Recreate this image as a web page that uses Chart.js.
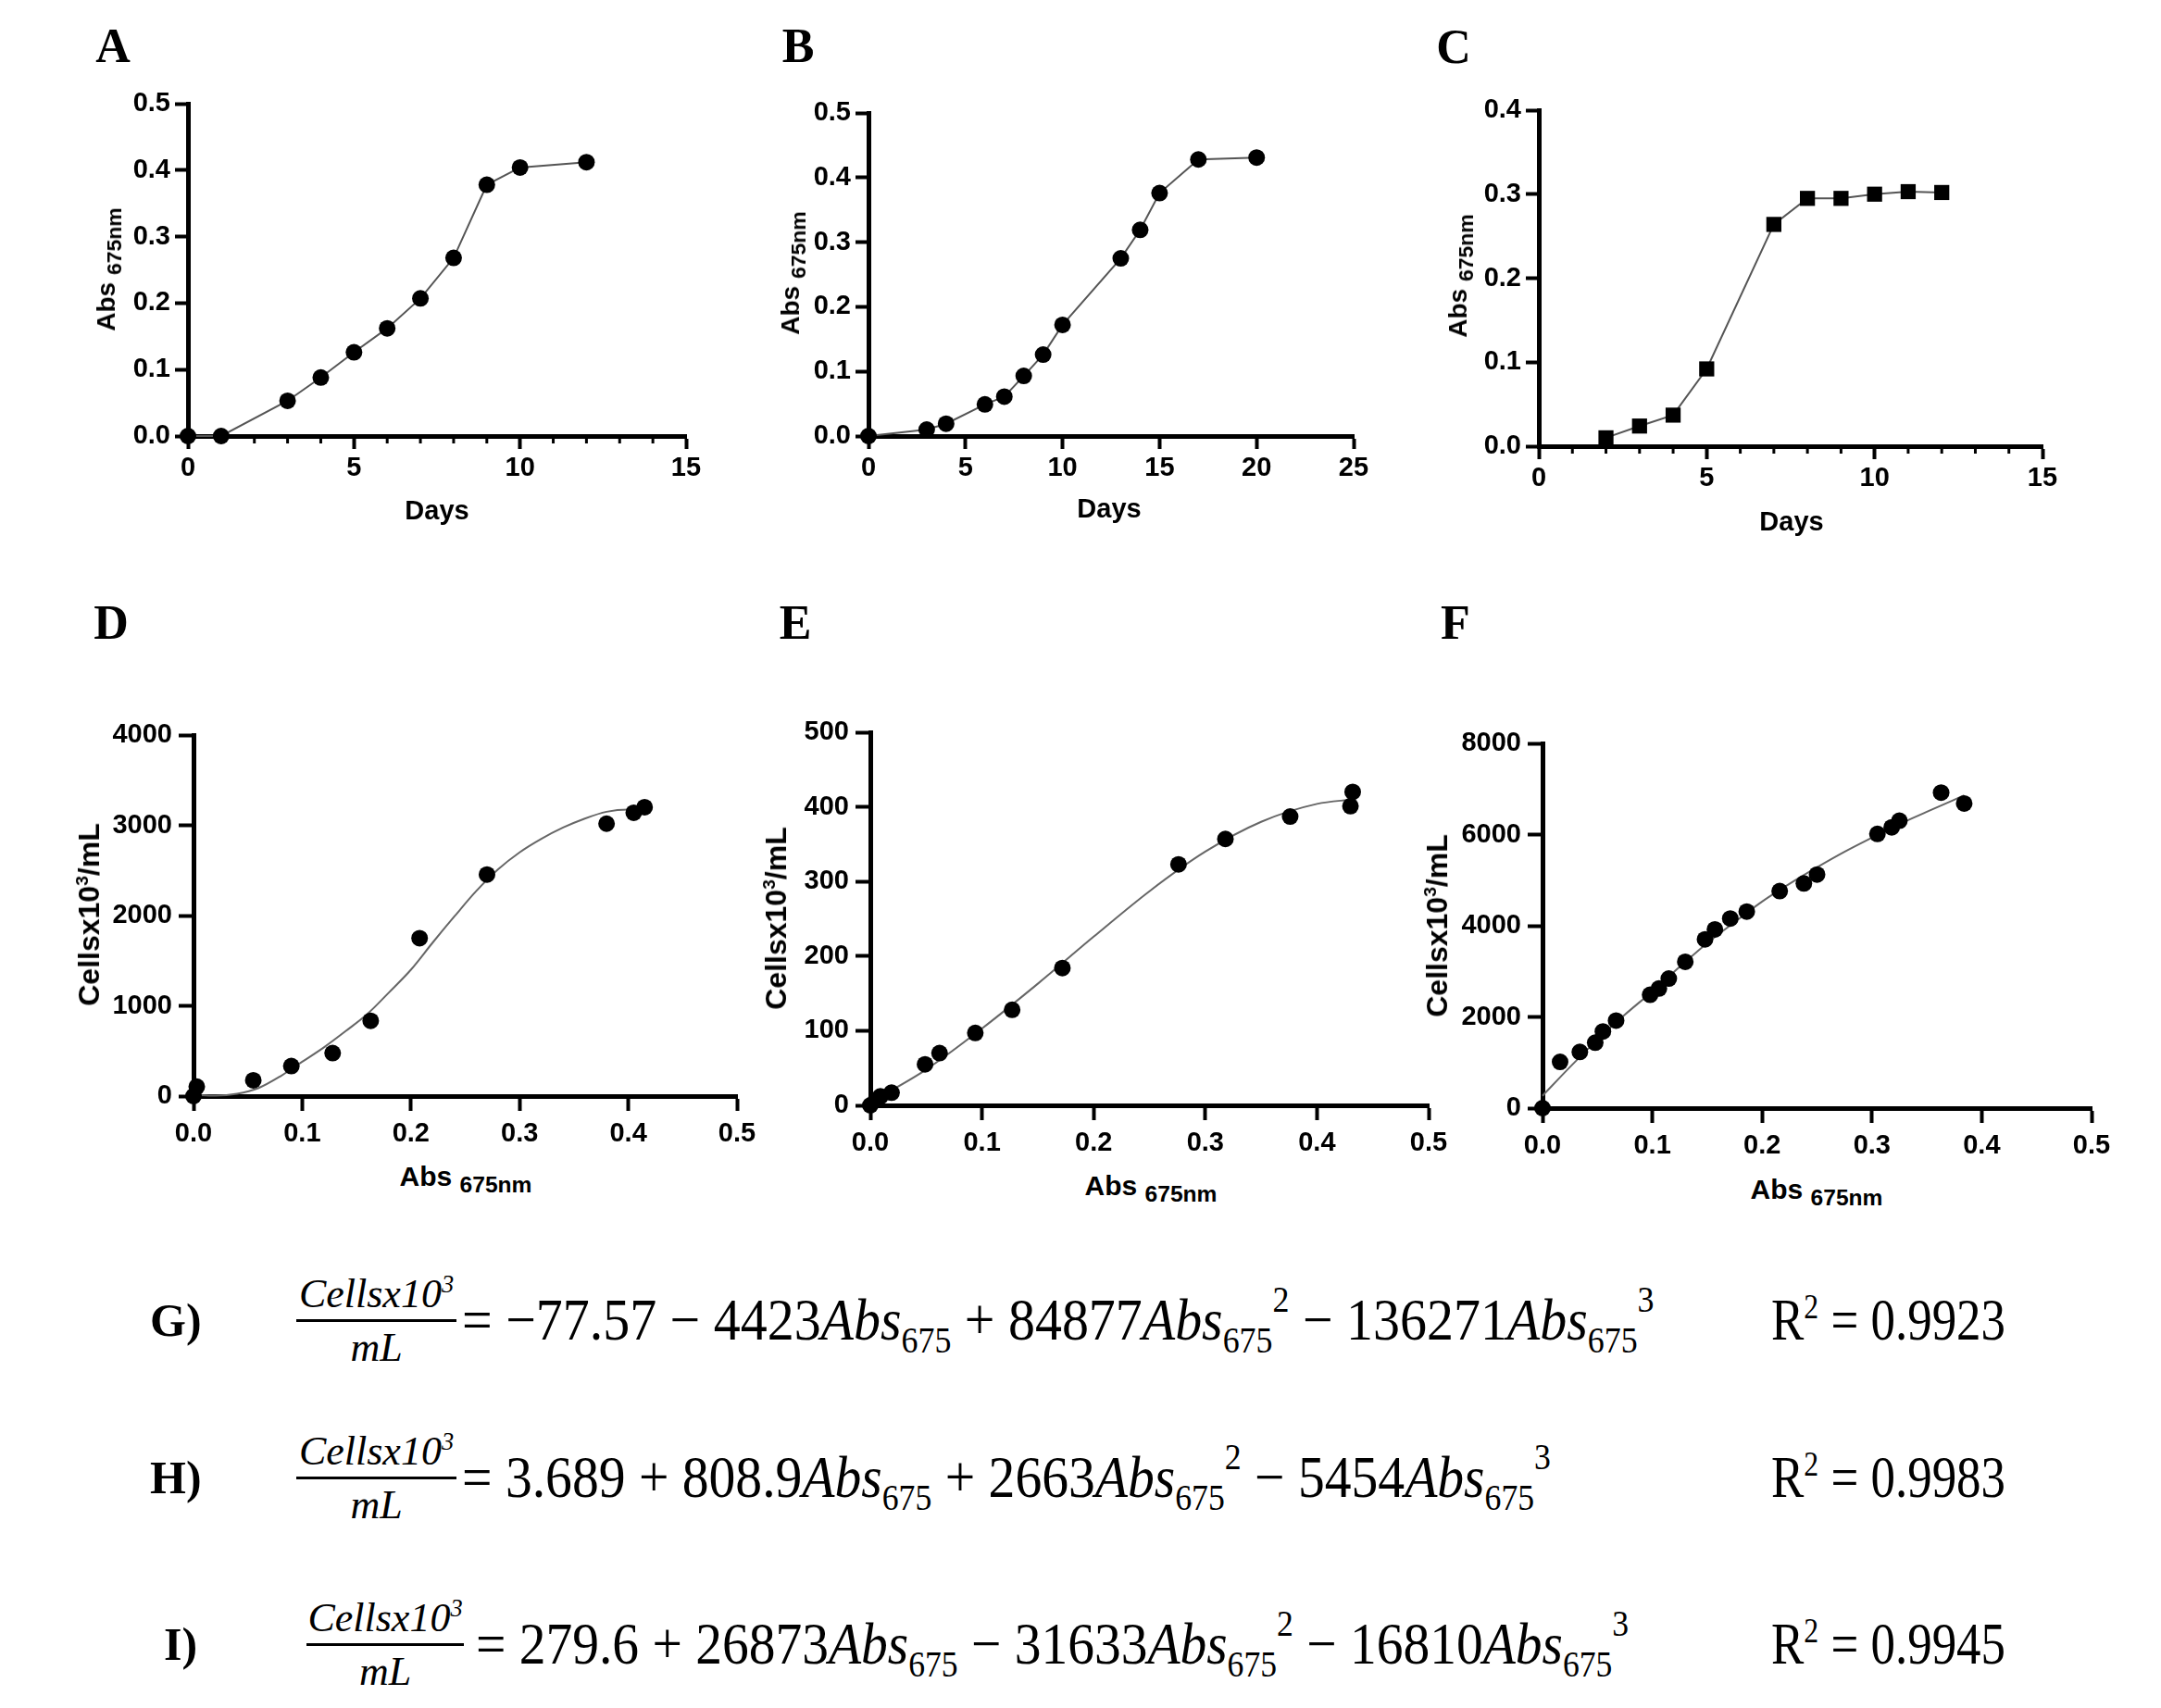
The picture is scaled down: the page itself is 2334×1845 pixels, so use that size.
<!DOCTYPE html>
<html>
<head>
<meta charset="utf-8">
<script src="https://cdn.jsdelivr.net/npm/chart.js@4.4.1/dist/chart.umd.min.js"></script>
<style>
body { margin: 0; background: #fff; width: 2334px; height: 1845px; position: relative; overflow: hidden; font-family: "Liberation Sans", Arial, sans-serif; color: #000; }
.panel { position: absolute; }
.letter { position: absolute; font-family: "Liberation Serif", "Times New Roman", serif; font-weight: bold; font-size: 52px; line-height: 1; transform: translate(-50%, -50%); }
.xt { position: absolute; font-weight: bold; white-space: nowrap; line-height: 1; transform: translate(-50%, -50%); }
.yt { position: absolute; font-weight: bold; white-space: nowrap; line-height: 1; transform: translate(-50%, -50%) rotate(-90deg); }
.sub { font-size: 0.82em; position: relative; top: 0.3em; }
.sup { font-size: 0.6em; position: relative; top: -0.6em; }
.eqlabel { position: absolute; font-family: "Liberation Serif", "Times New Roman", serif; font-weight: bold; font-size: 50px; line-height: 1; transform: translateY(-50%); }
.frac { position: absolute; font-family: "Liberation Serif", serif; font-style: italic; font-size: 44px; text-align: center; }
.frac .num { position: absolute; left: 0; right: 0; bottom: 6px; line-height: 1; white-space: nowrap; }
.frac .den { position: absolute; left: 0; right: 0; top: 8px; line-height: 1; }
.frac .bar { position: absolute; left: 0; right: 0; top: -1px; height: 3px; background: #000; }
.eq, .r2 { position: absolute; font-family: "Liberation Serif", serif; font-size: 64px; line-height: 1; white-space: nowrap; transform-origin: left center; }
.eq i { font-style: italic; }
.eq .s { font-size: 0.62em; position: relative; top: 0.35em; }
.eq .p { font-size: 0.62em; position: relative; top: -0.75em; }
.r2 .p { font-size: 0.6em; position: relative; top: -0.6em; }
</style>
</head>
<body>
<script>
// growth curves (A-C)
const daysA = [0, 1, 3, 4, 5, 6, 7, 8, 9, 10, 12];
const absA = [0, 0, 0.053, 0.088, 0.126, 0.162, 0.207, 0.268, 0.378, 0.404, 0.412];
const daysB = [0, 3, 4, 6, 7, 8, 9, 10, 13, 14, 15, 17, 20];
const absB = [0, 0.010, 0.019, 0.049, 0.061, 0.093, 0.126, 0.172, 0.275, 0.319, 0.376, 0.428, 0.431];
const daysC = [2, 3, 4, 5, 7, 8, 9, 10, 11, 12];
const absC = [0.010, 0.024, 0.037, 0.092, 0.264, 0.295, 0.295, 0.300, 0.303, 0.302];

// calibration points (D-F)
const absD = [0, 0.003, 0.055, 0.090, 0.128, 0.163, 0.208, 0.270, 0.380, 0.405, 0.415];
const cellsD = [0, 105, 175, 333, 476, 834, 1749, 2455, 3018, 3139, 3201];
const absE = [0, 0.005, 0.009, 0.019, 0.049, 0.062, 0.094, 0.127, 0.172, 0.276, 0.318, 0.376, 0.430, 0.432];
const cellsE = [0, 7, 12, 17, 55, 70, 97, 128, 184, 323, 357, 387, 401, 420];
const absF = [0, 0.016, 0.034, 0.048, 0.055, 0.067, 0.098, 0.106, 0.115, 0.130, 0.148, 0.157, 0.171, 0.186, 0.216, 0.238, 0.250, 0.305, 0.318, 0.325, 0.363, 0.384];
const cellsF = [0, 1015, 1232, 1435, 1681, 1920, 2486, 2623, 2841, 3210, 3703, 3920, 4159, 4312, 4761, 4928, 5123, 6014, 6159, 6304, 6920, 6681];

// fitted curves
const fitXD = [0, 0.02, 0.04, 0.06, 0.08, 0.10, 0.12, 0.14, 0.16, 0.18, 0.20, 0.22, 0.24, 0.26, 0.28, 0.30, 0.32, 0.34, 0.36, 0.38, 0.40, 0.415];
const fitYD = [15, 5, 25, 90, 220, 380, 540, 720, 910, 1150, 1400, 1700, 1990, 2270, 2510, 2700, 2850, 2975, 3075, 3150, 3175, 3170];
const fitXE = [0, 0.05, 0.10, 0.15, 0.20, 0.25, 0.30, 0.35, 0.40, 0.432];
const fitYE = [4, 48, 103, 163, 226, 287, 340, 380, 404, 410];
const fitXF = [0, 0.025, 0.05, 0.075, 0.10, 0.125, 0.15, 0.175, 0.20, 0.225, 0.25, 0.275, 0.30, 0.325, 0.35, 0.384];
const fitYF = [270, 900, 1500, 2050, 2560, 3100, 3620, 4080, 4530, 4920, 5280, 5620, 5930, 6230, 6500, 6860];

// ticks
const dayTicks15 = [0, 5, 10, 15];
const dayTicks25 = [0, 5, 10, 15, 20, 25];
const absTicks5 = [0, 0.1, 0.2, 0.3, 0.4, 0.5];
const absTicks4 = [0, 0.1, 0.2, 0.3, 0.4];
const absLabels5 = ['0.0', '0.1', '0.2', '0.3', '0.4', '0.5'];
const absLabels4 = ['0.0', '0.1', '0.2', '0.3', '0.4'];
const cellTicksD = [0, 1000, 2000, 3000, 4000];
const cellTicksE = [0, 100, 200, 300, 400, 500];
const cellTicksF = [0, 2000, 4000, 6000, 8000];

const FONT = '"Liberation Sans", Arial, sans-serif';

const pts = (xs, ys) => xs.map((x, i) => ({ x: x, y: ys[i] }));

const minorTicks = {
    id: 'minorTicks',
    afterDraw(chart, args, opts) {
        if (!opts.step) return;
        const sx = chart.scales.x, ctx = chart.ctx, y0 = chart.chartArea.bottom;
        ctx.save();
        ctx.strokeStyle = '#000';
        ctx.lineWidth = 3;
        for (let v = sx.min; v <= sx.max; v += opts.step) {
            if (v % opts.major === 0) continue;
            const px = sx.getPixelForValue(v);
            ctx.beginPath(); ctx.moveTo(px, y0); ctx.lineTo(px, y0 + 8); ctx.stroke();
        }
        ctx.restore();
    }
};

function axis(vals, labels, p, pad, fit, isX) {
    return {
        type: 'linear',
        min: vals[0], max: vals[vals.length - 1],
        afterBuildTicks: s => { s.ticks = vals.map(v => ({ value: v })); },
        afterFit: s => { if (isX) s.height = fit; else s.width = fit; },
        ticks: { callback: (v, i) => labels[i], color: '#000', font: { family: FONT, size: p.font, weight: 'bold' }, padding: pad, maxRotation: 0, autoSkip: false },
        grid: { drawOnChartArea: false, drawTicks: true, tickLength: p.tick, tickWidth: 4, tickColor: '#000' },
        border: { display: true, color: '#000', width: 5 }
    };
}

function panel(p) {
    const padL = 130, padT = 30, padR = 50, padB = 70;
    const w = p.right - p.left + padL + padR, h = p.bottom - p.top + padT + padB;
    const div = document.createElement('div');
    div.className = 'panel';
    div.style.left = (p.left - padL) + 'px';
    div.style.top = (p.top - padT) + 'px';
    div.style.width = w + 'px';
    div.style.height = h + 'px';
    const cv = document.createElement('canvas');
    div.appendChild(cv);
    document.body.appendChild(div);
    new Chart(cv, {
        type: 'scatter',
        data: { datasets: p.datasets },
        options: {
            responsive: true, maintainAspectRatio: false, animation: false,
            layout: { padding: { left: 0, top: padT, right: padR, bottom: 0 } },
            plugins: { legend: { display: false }, tooltip: { enabled: false }, minorTicks: { step: p.minor || 0, major: 5 } },
            scales: {
                x: axis(p.xVals, p.xLabels, p, p.xPad, padB, true),
                y: axis(p.yVals, p.yLabels, p, p.yPad, padL, false)
            }
        },
        plugins: [minorTicks]
    });
}

function growth(xs, ys, style, r) {
    return [{ data: pts(xs, ys), showLine: true, borderColor: '#555', borderWidth: 2, pointStyle: style, pointRadius: r,
        pointBackgroundColor: '#000', pointBorderColor: '#000', pointBorderWidth: 0, clip: false }];
}

function calib(xs, ys, fx, fy) {
    return [
        { data: pts(xs, ys), showLine: false, pointRadius: 9, pointBackgroundColor: '#000', pointBorderColor: '#000', pointBorderWidth: 0, clip: false },
        { data: pts(fx, fy), showLine: true, borderColor: '#666', borderWidth: 2, pointRadius: 0, cubicInterpolationMode: 'monotone', clip: false }
    ];
}

const dayLabels15 = dayTicks15.map(String);
const dayLabels25 = dayTicks25.map(String);

panel({ left: 203, right: 741, top: 112, bottom: 471, font: 29, tick: 14, xPad: 4, yPad: 5, minor: 1,
    xVals: dayTicks15, xLabels: dayLabels15, yVals: absTicks5, yLabels: absLabels5, datasets: growth(daysA, absA, 'circle', 9) });
panel({ left: 938, right: 1462, top: 122, bottom: 471, font: 29, tick: 14, xPad: 4, yPad: 5,
    xVals: dayTicks25, xLabels: dayLabels25, yVals: absTicks5, yLabels: absLabels5, datasets: growth(daysB, absB, 'circle', 9) });
panel({ left: 1662, right: 2206, top: 119, bottom: 482, font: 29, tick: 14, xPad: 4, yPad: 5, minor: 1,
    xVals: dayTicks15, xLabels: dayLabels15, yVals: absTicks4, yLabels: absLabels4, datasets: growth(daysC, absC, 'rect', 11.5) });
panel({ left: 209, right: 796, top: 794, bottom: 1184, font: 29, tick: 16, xPad: 8, yPad: 7,
    xVals: absTicks5, xLabels: absLabels5, yVals: cellTicksD, yLabels: cellTicksD.map(String), datasets: calib(absD, cellsD, fitXD, fitYD) });
panel({ left: 940, right: 1543, top: 791, bottom: 1194, font: 29, tick: 16, xPad: 8, yPad: 7,
    xVals: absTicks5, xLabels: absLabels5, yVals: cellTicksE, yLabels: cellTicksE.map(String), datasets: calib(absE, cellsE, fitXE, fitYE) });
panel({ left: 1666, right: 2259, top: 803, bottom: 1197, font: 29, tick: 16, xPad: 8, yPad: 7,
    xVals: absTicks5, xLabels: absLabels5, yVals: cellTicksF, yLabels: cellTicksF.map(String), datasets: calib(absF, cellsF, fitXF, fitYF) });

function put(cls, x, y, html, size) {
    const d = document.createElement('div');
    d.className = cls;
    d.style.left = x + 'px';
    d.style.top = y + 'px';
    if (size) d.style.fontSize = size + 'px';
    d.innerHTML = html;
    document.body.appendChild(d);
    return d;
}

// panel letters
[['A', 122, 50], ['B', 862, 50], ['C', 1570, 51], ['D', 120, 673], ['E', 859, 673], ['F', 1572, 673]]
    .forEach(l => put('letter', l[1], l[2], l[0]));

// axis titles
const absTitle = 'Abs <span class="sub">675nm</span>';
const cellTitle = 'Cellsx10<span class="sup">3</span>/mL';
put('xt', 472, 551, 'Days', 29);
put('xt', 1198, 549, 'Days', 29);
put('xt', 1935, 563, 'Days', 29);
put('yt', 115, 291, absTitle, 28);
put('yt', 854, 295, absTitle, 28);
put('yt', 1575, 298, absTitle, 28);
put('xt', 503, 1271, absTitle, 30);
put('xt', 1243, 1281, absTitle, 30);
put('xt', 1962, 1285, absTitle, 30);
put('yt', 96, 988, cellTitle, 32);
put('yt', 838, 992, cellTitle, 32);
put('yt', 1552, 1000, cellTitle, 32);

// fitted equations
const absTerm = (p) => '<i>Abs</i><span class="s">675</span>' + (p ? '<span class="p">' + p + '</span>' : '');
const eqRows = [
    { label: 'G)', y: 1426, lx: 162, fx: 320, fw: 173, ex: 499, ew: 1288,
      html: '= −77.57 − 4423' + absTerm() + ' + 84877' + absTerm(2) + ' − 136271' + absTerm(3), r2: '0.9923' },
    { label: 'H)', y: 1596, lx: 162, fx: 320, fw: 173, ex: 499, ew: 1176,
      html: '= 3.689 + 808.9' + absTerm() + ' + 2663' + absTerm(2) + ' − 5454' + absTerm(3), r2: '0.9983' },
    { label: 'I)', y: 1776, lx: 177, fx: 331, fw: 170, ex: 514, ew: 1246,
      html: '= 279.6 + 26873' + absTerm() + ' − 31633' + absTerm(2) + ' − 16810' + absTerm(3), r2: '0.9945' }
];

const fitters = [];
eqRows.forEach(r => {
    put('eqlabel', r.lx, r.y, r.label);
    const f = put('frac', r.fx, r.y, '<div class="num">Cellsx10<span class="sup">3</span></div><div class="bar"></div><div class="den">mL</div>');
    f.style.width = r.fw + 'px';
    fitters.push([put('eq', r.ex, r.y, r.html), r.ew]);
    fitters.push([put('r2', 1913, r.y, 'R<span class="p">2</span> = ' + r.r2), 253]);
});

function fitWidths() {
    fitters.forEach(([el, target]) => {
        el.style.transform = 'translateY(-50%)';
        const k = target / el.scrollWidth;
        el.style.transform = 'translateY(-50%) scaleX(' + k.toFixed(3) + ')';
    });
}
fitWidths();
if (document.fonts) document.fonts.ready.then(fitWidths);
</script>
</body>
</html>
